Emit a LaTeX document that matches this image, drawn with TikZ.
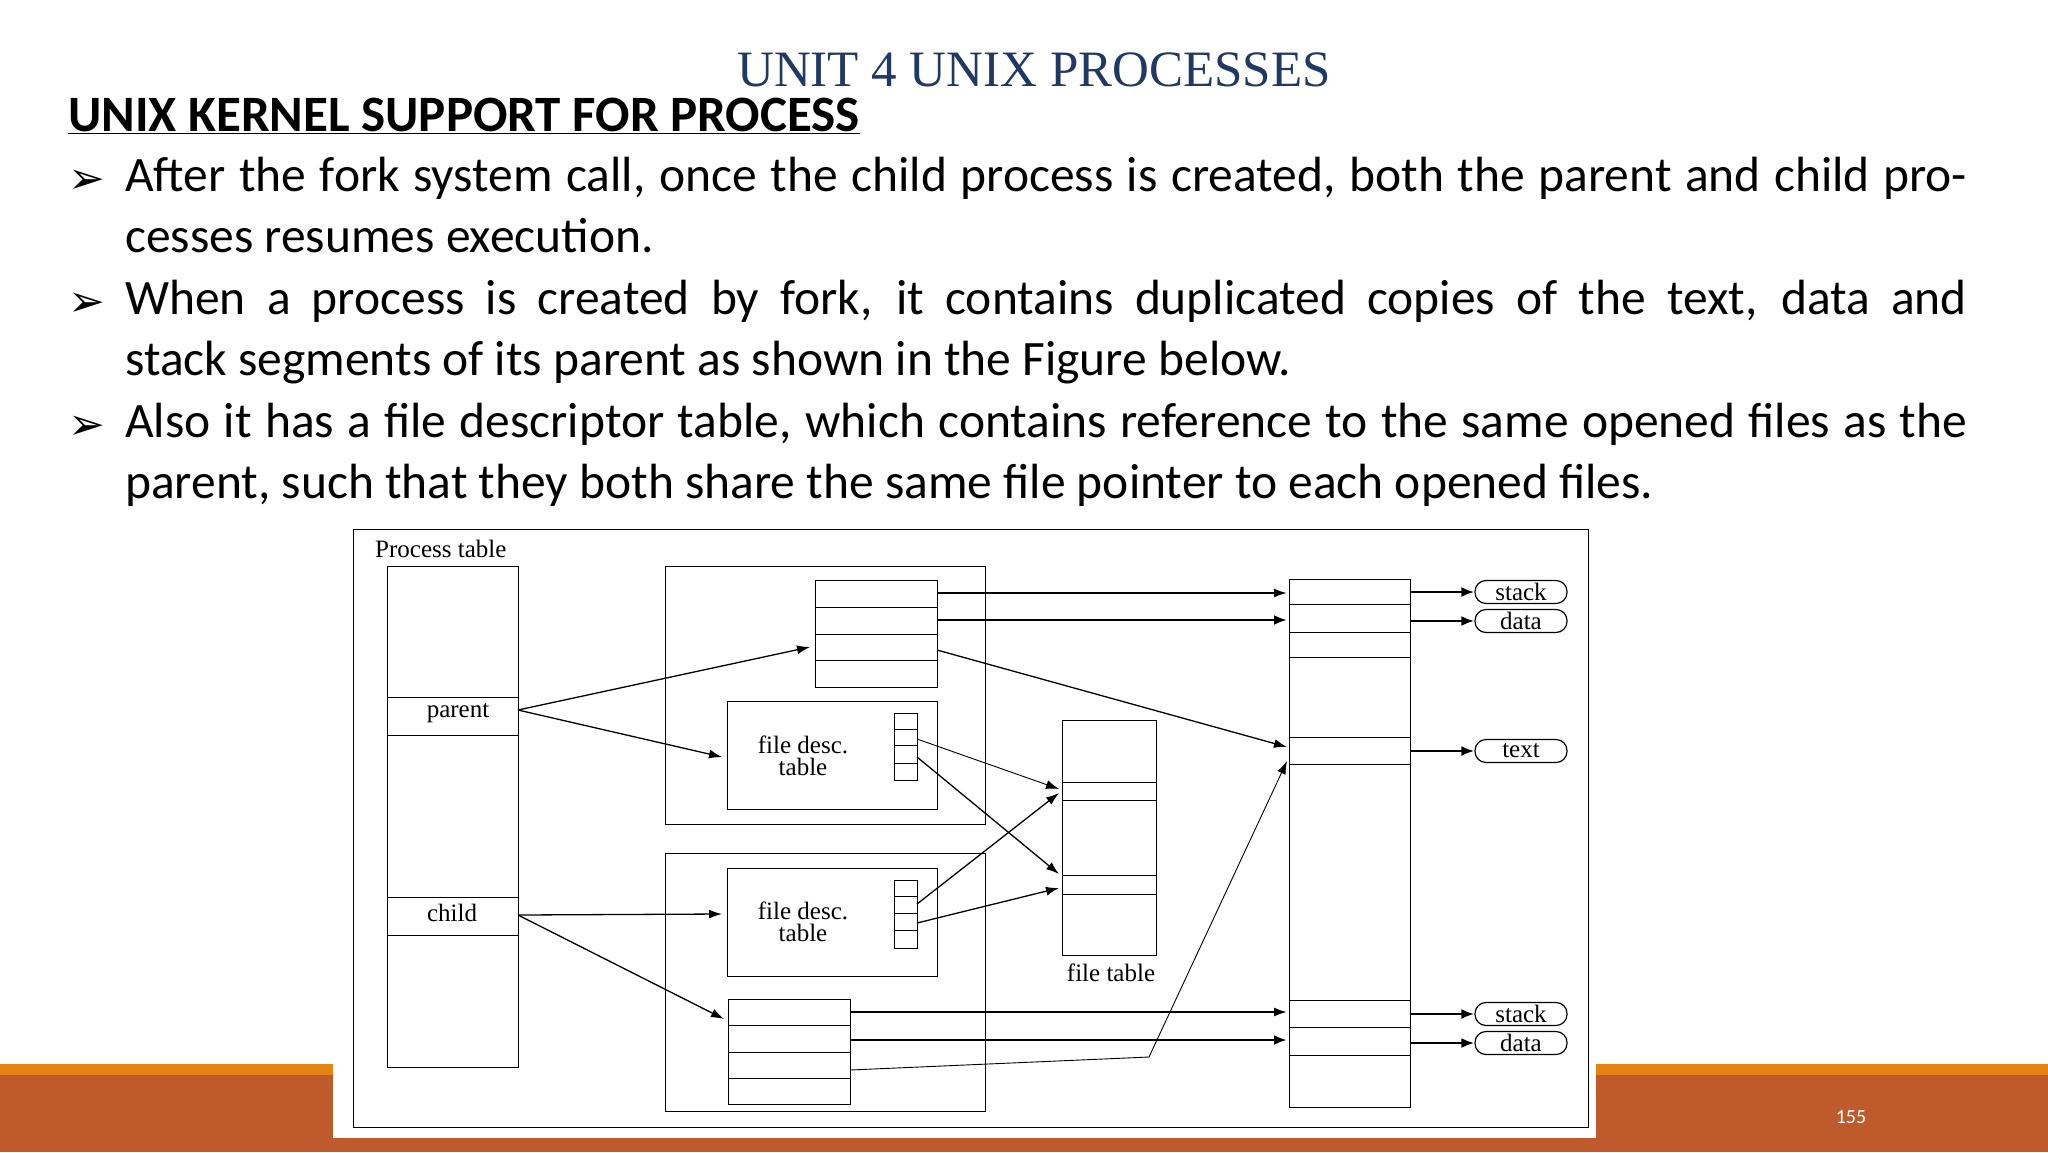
\documentclass[tikz,border=0pt]{standalone}
\usepackage{fontspec}
\setmainfont{Carlito}
\newfontfamily\serifA{Liberation Serif}
\newfontfamily\dingf{DejaVu Sans}
\usetikzlibrary{arrows.meta}
\definecolor{titleblue}{HTML}{1F3864}
\definecolor{bandorange}{HTML}{E48312}
\definecolor{bandrust}{HTML}{BE5A2C}
\tikzset{
  box/.style={draw, line width=1.2pt, inner sep=0pt, anchor=north west},
  arr/.style={-{Latex[length=13pt,width=9pt]}, line width=1.3pt},
  thinarr/.style={-{Latex[length=13pt,width=9pt]}, line width=0.9pt},
  thickarr/.style={-{Latex[length=13pt,width=10pt]}, line width=2.6pt},
  oval/.style={draw, rounded corners=11pt, line width=1.2pt, minimum width=92pt, minimum height=23pt, inner sep=0pt, font=\serifA\fontsize{25}{26}\selectfont},
  lbl/.style={font=\serifA\fontsize{25}{26}\selectfont, inner sep=0pt},
  bullettext/.style={anchor=north west, text width=1842pt, align=justify, inner sep=0pt, font=\fontsize{49.5}{61}\selectfont},
  bulletmark/.style={anchor=base west, inner sep=0pt, font=\dingf\bfseries\fontsize{44}{46}\selectfont}
}
\begin{document}
\begin{tikzpicture}[x=1pt,y=-1pt]
\useasboundingbox (0,0) rectangle (2048,1152);
\fill[white] (0,0) rectangle (2048,1152);
% footer bands
\fill[bandorange] (0,1064) rectangle (2048,1075);
\fill[bandrust] (0,1075) rectangle (2048,1152);
\fill[white] (333,1060) rectangle (1596,1138);
\node[text=white, font=\fontsize{20}{22}\selectfont] (pnum) at (1851,1117) {155};
% title
\node[font=\serifA\fontsize{51}{56}\selectfont, text=titleblue, anchor=base] (title) at (1034,86) {UNIT 4 UNIX PROCESSES};
\node[font=\bfseries\fontsize{51}{54}\selectfont, anchor=base west, inner sep=0pt] (head) at (68,131) {\underline{UNIX KERNEL SUPPORT FOR PROCESS}};
% bullets
\node[bulletmark] (b1) at (68,193) {➢};
\node[bullettext] (t1) at (125,157) {\hyphenpenalty=10000\relax After the fork system call, once the child process is created, both the parent and child processes resumes execution.};
\node[bulletmark] (b2) at (68,316) {➢};
\node[bullettext] (t2) at (125,280) {\hyphenpenalty=10000\relax When a process is created by fork, it contains duplicated copies of the text, data and\linebreak stack segments of its parent as shown in the Figure below.};
\node[bulletmark] (b3) at (68,439) {➢};
\node[bullettext] (t3) at (125,403) {\hyphenpenalty=10000\relax Also it has a file descriptor table, which contains reference to the same opened files as the parent, such that they both share the same file pointer to each opened files.};
% diagram frame
\node[box, minimum width=1235pt, minimum height=598pt] (frame) at (353,529) {};
\node[lbl, anchor=west] (ptl) at (375,549) {Process table};
% process table column
\node[box, minimum width=131pt, minimum height=501pt] (pt) at (387,566) {};
\node[box, minimum width=131pt, minimum height=38pt] (prow) at (387,697) {};
\node[lbl] (plab) at (458,713) {parent};
\node[box, minimum width=131pt, minimum height=38pt] (crow) at (387,897) {};
\node[lbl] (clab) at (452,913) {child};
% parent region
\node[box, minimum width=320pt, minimum height=258pt] (preg) at (665,566) {};
\node[box, minimum width=122pt, minimum height=107pt] (pseg) at (815,580) {};
\foreach \yy in {607,634,660} \draw[line width=1pt] (815,\yy) -- (937,\yy);
\node[box, minimum width=210pt, minimum height=108pt] (pfdt) at (727,701) {};
\node[lbl, align=center, font=\serifA\fontsize{25}{22}\selectfont] (pfdtl) at (803,756) {file desc.\\table};
\node[box, minimum width=23pt, minimum height=67pt, line width=1pt] (pcol) at (894,713) {};
\foreach \yy in {729,745,763} \draw[line width=1pt] (894,\yy) -- (917,\yy);
% child region
\node[box, minimum width=320pt, minimum height=258pt] (creg) at (665,853) {};
\node[box, minimum width=210pt, minimum height=108pt] (cfdt) at (727,868) {};
\node[lbl, align=center, font=\serifA\fontsize{25}{22}\selectfont] (cfdtl) at (803,922) {file desc.\\table};
\node[box, minimum width=23pt, minimum height=68pt, line width=1pt] (ccol) at (894,880) {};
\foreach \yy in {896,913,930} \draw[line width=1pt] (894,\yy) -- (917,\yy);
\node[box, minimum width=122pt, minimum height=105pt] (cseg) at (728,999) {};
\foreach \yy in {1025,1052,1078} \draw[line width=1pt] (728,\yy) -- (850,\yy);
% file table
\node[box, minimum width=94pt, minimum height=235pt] (ft) at (1062,720) {};
\foreach \yy in {782,800,875,894} \draw[line width=1pt] (1062,\yy) -- (1156,\yy);
\node[lbl] (ftl) at (1111,973) {file table};
% region table
\node[box, minimum width=121pt, minimum height=528pt] (rt) at (1289,579) {};
\foreach \yy in {604,632,657,737,764,1000,1027,1055} \draw[line width=1pt] (1289,\yy) -- (1410,\yy);
% ovals
\node[oval] (o1) at (1521,592) {stack};
\node[oval] (o2) at (1521,621) {data};
\node[oval] (o3) at (1521,751) {text};
\node[oval] (o4) at (1521,1014) {stack};
\node[oval] (o5) at (1521,1043) {data};
\draw[thickarr] (1410,592) -- (o1.west);
\draw[thickarr] (1410,621) -- (o2.west);
\draw[thickarr] (1410,751) -- (o3.west);
\draw[thickarr] (1410,1014) -- (o4.west);
\draw[thickarr] (1410,1043) -- (o5.west);
% coordinates
\coordinate (pout) at (518,710);
\coordinate (cout) at (518,915);
% parent arrows
\draw[arr] (pout) -- (810,647);
\draw[arr] (pout) -- (722,757);
\draw[-{Latex[length=13pt,width=9pt]}, line width=2pt] (937,593) -- (1287,593);
\draw[thickarr] (937,620) -- (1287,620);
\draw[arr] (937,650) -- (1287,747);
\draw[thinarr] (917,739) -- (1059,789);
\draw[arr] (917,757) -- (1059,874);
% child arrows
\draw[arr] (cout) -- (722,914);
\draw[arr] (cout) -- (724,1019);
\draw[arr] (917,904) -- (1059,793);
\draw[arr] (917,923) -- (1059,888);
\draw[-{Latex[length=13pt,width=9pt]}, line width=2pt] (850,1012) -- (1287,1012);
\draw[thickarr] (850,1040) -- (1287,1040);
\draw[thinarr] (850,1070) -- (1149,1057) -- (1287,761);
\end{tikzpicture}
\end{document}
